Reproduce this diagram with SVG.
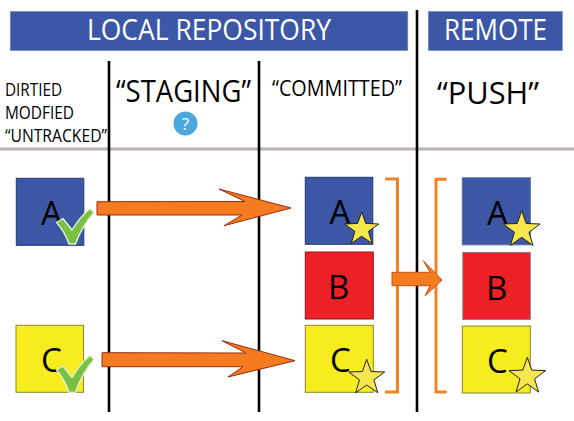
<svg xmlns="http://www.w3.org/2000/svg" width="574" height="421" viewBox="0 0 574 421">
<style>
text{font-family:"Open Sans","Noto Sans","Liberation Sans",sans-serif;fill:#000}
.banner{fill:#3b57a6;stroke:#6f86c4;stroke-width:.6}
.bt{fill:#fff;font-size:29.500px}
.sub{font-size:18.500px}
.col{font-size:31px}
.let{font-size:33px}
.vl{stroke:#000;stroke-width:2.6;fill:none}
.arrow{fill:#f47b20;stroke:#9a2d10;stroke-width:1}
.br{fill:none;stroke:#f58220;stroke-width:3}
.sq{stroke-width:1}
.blue{fill:#3b57a6;stroke:#26386f}
.red{fill:#ee2027;stroke:#8d1a1c}
.yel{fill:#f6ec1e;stroke:#8a8530}
.star{fill:#f8e64e;stroke:#222;stroke-width:1}
.chk{fill:#7ac143;stroke:#e6f0d4;stroke-width:1.400;stroke-linejoin:round}
</style>
<rect width="574" height="421" fill="#fff"/>
<g id="banner-local"><rect class="banner" x="10.300" y="11.500" width="397.500" height="39"/><text class="bt" x="87" y="39.500" textLength="244" lengthAdjust="spacingAndGlyphs">LOCAL REPOSITORY</text></g>
<g id="banner-remote"><rect class="banner" x="428.300" y="11.500" width="134" height="39"/><text class="bt" x="444" y="39.500" textLength="103" lengthAdjust="spacingAndGlyphs">REMOTE</text></g>
<g id="headings">
<text class="sub" x="5" y="96" textLength="57" lengthAdjust="spacingAndGlyphs">DIRTIED</text>
<text class="sub" x="5" y="119" textLength="69" lengthAdjust="spacingAndGlyphs">MODFIED</text>
<text class="sub" x="5" y="142" textLength="102" lengthAdjust="spacingAndGlyphs">“UNTRACKED”</text>
<text class="col" x="116" y="101.500" textLength="135" lengthAdjust="spacingAndGlyphs">“STAGING”</text>
<text x="272" y="95.500" font-size="21.500" textLength="130" lengthAdjust="spacingAndGlyphs">“COMMITTED”</text>
<text class="col" x="437" y="103.500" textLength="102" lengthAdjust="spacingAndGlyphs">“PUSH”</text>
</g>
<g id="help"><circle cx="185.500" cy="123.500" r="12" fill="#4aa8e0"/><text x="185.500" y="130" font-size="17" text-anchor="middle" style="fill:#fff">?</text></g>
<g id="dividers">
<line x1="0" y1="149" x2="574" y2="149" stroke="#b9b1b3" stroke-width="3"/>
<line class="vl" x1="109" y1="61" x2="109" y2="412"/>
<line class="vl" x1="259" y1="61" x2="259" y2="412"/>
<line class="vl" x1="417" y1="10" x2="417" y2="412"/>
</g>
<g id="node-a-dirty"><rect class="sq blue" x="16.300" y="178.300" width="67.500" height="67"/><text class="let" x="41" y="225">A</text><path class="chk" d="M56.500,222.500 L63,218.500 L72,230 Q80,217 90,208.500 L94,212.500 Q82,226 75.500,244 L69,244 Q65,232 56.500,222.500Z"/></g>
<g id="node-c-dirty"><rect class="sq yel" x="16" y="325.300" width="67.500" height="67"/><text class="let" x="41" y="372">C</text><path class="chk" d="M56.500,370 L63,366 L72,377.500 Q80,364 90,355.500 L94,359.500 Q82,373 75.500,392.500 L69,392.500 Q65,380 56.500,370Z"/></g>
<g id="node-a-committed"><rect class="sq blue" x="305.300" y="177.300" width="67.500" height="67"/><text class="let" x="329.500" y="224">A</text><polygon class="star" points="361.700,212 365.800,223.400 378.800,224 368.500,231.400 372.200,243.500 361.700,236.200 351.200,243.500 354.900,231.400 344.600,224 357.600,223.400"/></g>
<g id="node-b-committed"><rect class="sq red" x="305.300" y="252" width="68" height="67"/><text class="let" x="328" y="299">B</text></g>
<g id="node-c-committed"><rect class="sq yel" x="305.300" y="325.300" width="68" height="67"/><text class="let" x="330" y="372">C</text><polygon class="star" points="366.700,359.300 371,371.500 384.700,372 373.900,379.900 377.800,392.800 366.700,385 355.600,392.800 359.500,379.900 348.700,372 362.400,371.500"/></g>
<g id="node-a-remote"><rect class="sq blue" x="462.300" y="177.800" width="68" height="67" style="stroke:#5b6a8f"/><text class="let" x="487" y="225">A</text><polygon class="star" points="521.700,210.700 526.200,223.500 540,224 529,232.300 533,245.500 521.700,237.300 510.400,245.500 514.400,232.300 503.400,224 517.200,223.500"/></g>
<g id="node-b-remote"><rect class="sq red" x="462.800" y="252.500" width="67.500" height="67" style="stroke:#8a8080"/><text class="let" x="486" y="300">B</text></g>
<g id="node-c-remote"><rect class="sq yel" x="462.300" y="326" width="68" height="67"/><text class="let" x="487" y="372.500">C</text><polygon class="star" points="527.300,357.300 531.800,370.100 545.600,370.600 534.600,378.900 538.600,392.100 527.300,383.900 516,392.100 520,378.900 509,370.600 522.800,370.100"/></g>
<g id="connectors">
<polygon class="arrow" points="97,201.700 245,201.500 219,189 291,208 224,225.700 242,215 97,215"/>
<polygon class="arrow" points="102,352.700 246,353 222,340.700 295,360.700 228,377 243,366.700 102,366.700"/>
<path class="br" d="M385,179H397.500V392H385"/>
<path class="br" d="M446.700,179.300H436V392H446.700"/>
<polygon class="arrow" style="stroke:#c0531a" points="392,272.300 430,272.300 423.300,260.700 442,280 425,296 430,285.700 392,285.700"/>
</g>
</svg>
